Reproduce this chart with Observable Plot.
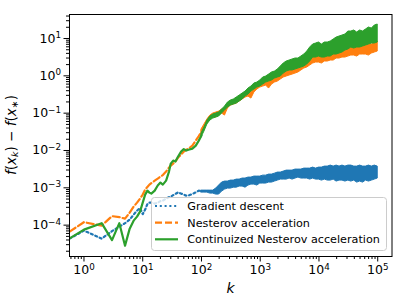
<!DOCTYPE html>
<html><head><meta charset="utf-8">
<script src="https://cdn.jsdelivr.net/npm/d3@7"></script>
<script src="https://cdn.jsdelivr.net/npm/@observablehq/plot@0.6"></script>
<style>
html,body{margin:0;padding:0;background:#fff;}
#chart{width:407px;height:305px;}
</style></head><body><div id="chart"></div>
<script>
// ---- series metadata ----
const seriesNames = ["Gradient descent", "Nesterov acceleration", "Continuized Nesterov acceleration"];
const seriesColors = ["#1f77b4", "#ff7f0e", "#2ca02c"];

// ---- early iterations (single lines) ----
const kEarly = [0.57,1,2,3,4,5,6,7,8,9,10,11,12,13,14,16,18,20,22,25,28,30,33,36,40,45,50,55,60,70,80,90,100];
const gdEarly = [4.35e-5,7.13e-5,4.35e-5,6.90e-5,9.12e-5,1.13e-4,1.40e-4,1.91e-4,2.45e-4,2.86e-4,1.97e-4,2.61e-4,3.66e-4,4.01e-4,4.01e-4,3.77e-4,4.01e-4,4.40e-4,4.54e-4,5.13e-4,5.63e-4,5.81e-4,6.37e-4,6.86e-4,7.57e-4,7.00e-4,6.58e-4,6.18e-4,6.18e-4,6.86e-4,7.57e-4,8.41e-4,8.16e-4];
const nesEarly = [6.70e-5,1.20e-4,9.70e-5,1.74e-4,1.64e-4,1.49e-4,2.16e-4,3.13e-4,4.01e-4,5.13e-4,6.58e-4,8.95e-4,1.05e-3,1.22e-3,1.34e-3,1.56e-3,1.77e-3,2.0e-3,2.19e-3,2.72e-3,3.48e-3,3.94e-3,4.46e-3,5.05e-3,6.46e-3,7.76e-3,9.35e-3,1.05e-2,1.12e-2,1.35e-2,1.84e-2,2.43e-2,3.21e-2];
const contEarly = [4.43e-5,7.57e-5,1.13e-4,3.96e-5,1.13e-4,2.82e-5,8.05e-5,1.32e-4,1.69e-4,2.30e-4,4.01e-4,6.58e-4,8.41e-4,7.44e-4,7.0e-4,8.41e-4,1.15e-3,1.38e-3,1.22e-3,1.56e-3,2.72e-3,4.46e-3,5.36e-3,5.05e-3,6.86e-3,9.35e-3,1.09e-2,9.93e-3,1.05e-2,1.12e-2,1.35e-2,1.84e-2,2.51e-2];

// ---- later iterations: noisy envelope (low / high) ----
const kBand = [100,112.2,125.9,141.3,158.5,177.8,199.5,223.9,251.2,281.8,316.2,354.8,398.1,446.7,501.2,562.3,631,707.9,794.3,891.3,1000,1122,1259,1413,1585,1778,1995,2239,2512,2818,3162,3548,3981,4467,5012,5623,6310,7079,7943,8913,10000,11220,12589,14125,15849,17783,19953,22387,25119,28184,31623,35481,39811,44668,50119,56234,63096,70795,79433,89125,100000];
const gdHi = [8.41e-4,8.41e-4,8.41e-4,8.41e-4,8.41e-4,9.52e-4,1.15e-3,1.38e-3,1.47e-3,1.47e-3,1.56e-3,1.56e-3,1.66e-3,1.66e-3,1.77e-3,1.77e-3,1.88e-3,1.88e-3,2.00e-3,2.00e-3,2.00e-3,2.12e-3,2.12e-3,2.26e-3,2.26e-3,2.40e-3,2.56e-3,2.56e-3,2.72e-3,2.89e-3,2.89e-3,2.89e-3,3.08e-3,3.08e-3,3.08e-3,3.27e-3,3.27e-3,3.27e-3,3.48e-3,3.27e-3,3.48e-3,3.48e-3,3.70e-3,3.70e-3,3.94e-3,3.70e-3,3.94e-3,3.70e-3,3.94e-3,3.70e-3,3.94e-3,3.94e-3,3.70e-3,3.70e-3,3.94e-3,3.70e-3,3.70e-3,3.94e-3,3.70e-3,3.94e-3,3.70e-3];
const gdLo = [7.44e-4,7.44e-4,7.44e-4,7.00e-4,7.00e-4,6.58e-4,6.58e-4,7.91e-4,8.95e-4,9.52e-4,9.52e-4,1.01e-3,1.01e-3,1.08e-3,1.08e-3,1.01e-3,1.15e-3,1.22e-3,1.22e-3,1.15e-3,1.30e-3,1.30e-3,1.30e-3,1.38e-3,1.38e-3,1.47e-3,1.56e-3,1.66e-3,1.66e-3,1.66e-3,1.77e-3,1.66e-3,1.77e-3,1.88e-3,1.77e-3,1.77e-3,1.77e-3,1.66e-3,1.77e-3,1.66e-3,1.66e-3,1.56e-3,1.66e-3,1.56e-3,1.56e-3,1.66e-3,1.47e-3,1.56e-3,1.56e-3,1.47e-3,1.56e-3,1.47e-3,1.56e-3,1.38e-3,1.47e-3,1.38e-3,1.56e-3,1.47e-3,1.56e-3,1.66e-3,1.77e-3];
const nesHi = [0.0363,0.0495,0.0674,0.0862,0.0978,0.104,0.110,0.125,0.125,0.170,0.205,0.218,0.232,0.262,0.296,0.335,0.357,0.357,0.457,0.549,0.622,0.748,0.796,0.703,0.846,0.958,1.08,1.15,1.30,1.39,1.48,1.57,1.78,1.89,2.01,2.27,2.74,3.29,3.72,3.72,3.96,3.96,3.96,4.48,4.48,4.77,4.77,5.39,5.39,5.74,6.10,6.10,6.49,6.10,6.49,6.49,6.90,7.34,6.90,7.81,8.31];
const nesLo = [0.0284,0.0387,0.0526,0.0674,0.0762,0.0762,0.0862,0.0978,0.0862,0.133,0.160,0.170,0.181,0.205,0.232,0.262,0.279,0.246,0.357,0.429,0.486,0.516,0.549,0.457,0.585,0.661,0.703,0.796,0.900,0.958,1.02,1.08,1.15,1.23,1.39,1.57,1.67,1.89,2.14,2.27,2.27,2.14,2.42,2.42,2.57,2.57,2.91,2.91,3.09,3.09,3.29,3.50,3.50,3.29,3.72,3.72,3.72,3.50,3.96,4.21,4.48];
const contHi = [0.0284,0.0411,0.0633,0.0811,0.0918,0.0978,0.104,0.125,0.150,0.192,0.218,0.232,0.262,0.296,0.335,0.379,0.457,0.516,0.622,0.661,0.748,0.900,0.958,1.08,1.23,1.30,1.48,1.78,2.14,2.42,2.57,2.74,2.91,2.91,3.29,3.72,4.48,5.74,6.90,7.34,7.81,6.90,7.81,7.81,8.31,9.40,10.6,11.3,12.0,12.8,15.4,15.4,16.4,14.5,16.4,15.4,17.4,19.7,18.5,22.3,23.7];
const contLo = [0.0222,0.0321,0.0495,0.0633,0.0716,0.0762,0.0811,0.0978,0.117,0.141,0.160,0.170,0.181,0.205,0.232,0.279,0.315,0.379,0.429,0.486,0.516,0.585,0.661,0.703,0.748,0.846,0.900,0.958,1.15,1.30,1.39,1.39,1.48,1.57,1.67,1.78,2.01,2.42,3.09,3.09,3.29,3.09,3.09,3.29,3.29,3.72,3.72,3.96,4.21,4.77,5.07,5.74,5.39,5.74,5.74,6.10,6.49,6.90,7.34,7.34,7.81];

// ---- axes ----
const xTicks = [1, 10, 100, 1000, 10000, 100000];
const yTicks = [1e-4, 1e-3, 1e-2, 1e-1, 1, 10];
const xDomain = [0.567, 1.75e5];
const yDomain = [1.445e-5, 44];

function minorTicks(domain) {
  const out = [];
  for (let e = Math.floor(Math.log10(domain[0])); e <= Math.ceil(Math.log10(domain[1])); e++)
    for (let d = 2; d <= 9; d++) {
      const v = d * Math.pow(10, e);
      if (v >= domain[0] && v <= domain[1]) out.push(v);
    }
  return out;
}
const powLabel = v => "10^" + Math.round(Math.log10(v));

const early = (ys) => kEarly.map((k, i) => ({k, v: ys[i]}));
const band = (lo, hi) => kBand.map((k, i) => ({k, lo: lo[i], hi: hi[i]}));

const lw = 2.2;
const plot = Plot.plot({
  width: 407, height: 305,
  marginLeft: 69, marginRight: 15.5, marginTop: 14, marginBottom: 49,
  style: {fontFamily: "DejaVu Sans", fontSize: "12.5px", color: "black", background: "white"},
  x: {type: "log", domain: xDomain},
  y: {type: "log", domain: yDomain},
  marks: [
    Plot.line(early(gdEarly), {x: "k", y: "v", stroke: seriesColors[0], strokeWidth: lw, strokeDasharray: "2,2.8", clip: true}),
    Plot.areaY(band(gdLo, gdHi), {x: "k", y1: "lo", y2: "hi", fill: seriesColors[0], stroke: seriesColors[0], strokeWidth: 1, clip: true}),
    Plot.line(early(nesEarly), {x: "k", y: "v", stroke: seriesColors[1], strokeWidth: lw, strokeDasharray: "7,3", clip: true}),
    Plot.areaY(band(nesLo, nesHi), {x: "k", y1: "lo", y2: "hi", fill: seriesColors[1], stroke: seriesColors[1], strokeWidth: 1, clip: true}),
    Plot.line(early(contEarly), {x: "k", y: "v", stroke: seriesColors[2], strokeWidth: lw, clip: true}),
    Plot.areaY(band(contLo, contHi), {x: "k", y1: "lo", y2: "hi", fill: seriesColors[2], stroke: seriesColors[2], strokeWidth: 1, clip: true}),
    Plot.axisX({ticks: minorTicks(xDomain), tickSize: 3, tickFormat: () => "", label: null}),
    Plot.axisY({ticks: minorTicks(yDomain), tickSize: 3, tickFormat: () => "", label: null}),
    Plot.axisX({ticks: xTicks, tickSize: 5.5, tickPadding: 3, tickFormat: powLabel, label: null}),
    Plot.axisY({ticks: yTicks, tickSize: 5.5, tickPadding: 3, tickFormat: powLabel, label: null}),
    Plot.frame({stroke: "black", strokeWidth: 1})
  ]
});
document.getElementById("chart").appendChild(plot);

// superscript exponents like matplotlib mathtext
d3.select(plot).selectAll("text").each(function() {
  const t = this.textContent;
  const m = /^10\^(-?\d+)$/.exec(t);
  if (!m) return;
  const sel = d3.select(this);
  sel.text("10");
  sel.append("tspan").attr("font-size", "70%").attr("dy", "-0.5em").text(m[1].replace("-", "\u2212"));
});

const svg = d3.select(plot);
// y label
const yl = svg.append("text")
  .attr("transform", "translate(16,135) rotate(-90)")
  .attr("text-anchor", "middle")
  .attr("font-family", "DejaVu Sans").attr("font-size", 13.5).attr("fill", "black");
const parts = [["f", 1, 0], ["(", 0, 0], ["x", 1, 0], ["k", 1, 1], [")", 0, -1], [" \u2212 ", 0, 0], ["f", 1, 0], ["(", 0, 0], ["x", 1, 0], ["\u2217", 0, 1], [")", 0, -1]];
parts.forEach(([s, it, sub]) => {
  const ts = yl.append("tspan").text(s);
  if (it) ts.attr("font-style", "italic");
  if (sub === 1) ts.attr("font-size", "70%").attr("dy", "0.25em");
  if (sub === -1) ts.attr("dy", "-0.175em");
});
// x label
svg.append("text").attr("x", 230.5).attr("y", 293).attr("text-anchor", "middle")
  .attr("font-family", "DejaVu Sans").attr("font-style", "italic").attr("font-size", 14).attr("fill", "black").text("k");

// legend
const lg = svg.append("g").attr("font-family", "DejaVu Sans").attr("font-size", 11.2).attr("text-anchor", "start");
lg.append("rect").attr("x", 151.5).attr("y", 197.5).attr("width", 235).attr("height", 53).attr("rx", 3).attr("ry", 3)
  .style("fill", "white").style("fill-opacity", 0.8).style("stroke", "#cccccc").style("stroke-width", "1px");
const dashes = ["2,2.8", "7,3", null];
const rowY = [206, 222.7, 239.3];
seriesNames.forEach((name, i) => {
  const ln = lg.append("line").attr("x1", 155).attr("x2", 178).attr("y1", rowY[i]).attr("y2", rowY[i])
    .style("stroke", seriesColors[i]).style("stroke-width", lw + "px");
  if (dashes[i]) ln.style("stroke-dasharray", dashes[i]);
  lg.append("text").attr("x", 187.3).attr("y", rowY[i]).attr("dy", "0.36em").attr("text-anchor", "start").style("fill", "black").text(name);
});
</script>
</body></html>
